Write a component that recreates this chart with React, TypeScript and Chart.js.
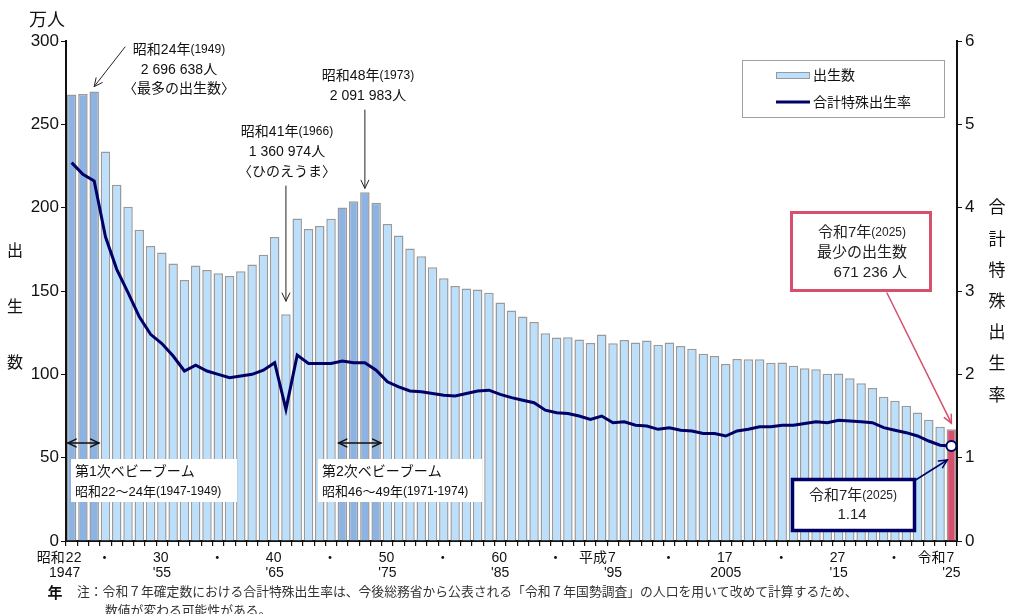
import { useEffect, useRef } from "react";
import { Chart, registerables } from "chart.js";

Chart.register(...registerables);

// 年次（西暦）
const years = [
  1947, 1948, 1949, 1950, 1951, 1952, 1953, 1954, 1955, 1956,
  1957, 1958, 1959, 1960, 1961, 1962, 1963, 1964, 1965, 1966,
  1967, 1968, 1969, 1970, 1971, 1972, 1973, 1974, 1975, 1976,
  1977, 1978, 1979, 1980, 1981, 1982, 1983, 1984, 1985, 1986,
  1987, 1988, 1989, 1990, 1991, 1992, 1993, 1994, 1995, 1996,
  1997, 1998, 1999, 2000, 2001, 2002, 2003, 2004, 2005, 2006,
  2007, 2008, 2009, 2010, 2011, 2012, 2013, 2014, 2015, 2016,
  2017, 2018, 2019, 2020, 2021, 2022, 2023, 2024, 2025,
];

// 出生数（万人）
const births = [
  267.8792, 268.1624, 269.6638, 233.7507, 213.7689, 200.5162, 186.804, 176.958, 173.0692, 166.5278,
  156.6713, 165.3469, 162.6088, 160.6041, 158.9372, 161.8616, 165.9521, 171.6761, 182.3697, 136.0974,
  193.5647, 187.1839, 188.9815, 193.4239, 200.0973, 203.8682, 209.1983, 202.9989, 190.144, 183.2617,
  175.51, 170.8643, 164.258, 157.6889, 152.9455, 151.5392, 150.8687, 148.978, 143.1577, 138.2946,
  134.6658, 131.4006, 124.6802, 122.1585, 122.3245, 120.8716, 118.8282, 123.8328, 118.7064, 120.6555,
  119.1665, 120.3147, 117.7669, 119.0547, 117.0662, 115.3855, 112.361, 111.0721, 106.253, 109.2674,
  108.9818, 109.1156, 107.0036, 107.1304, 105.0807, 103.7231, 102.9817, 100.3609, 100.5721, 97.6978,
  94.6146, 91.84, 86.5239, 84.0835, 81.1622, 77.0759, 72.7288, 68.6061, 67.1236,
];

// 合計特殊出生率
const tfr = [
  4.54, 4.4, 4.32, 3.65, 3.26, 2.98, 2.69, 2.48, 2.37, 2.22,
  2.04, 2.11, 2.04, 2.0, 1.96, 1.98, 2.0, 2.05, 2.14, 1.58,
  2.23, 2.13, 2.13, 2.13, 2.16, 2.14, 2.14, 2.05, 1.91, 1.85,
  1.8, 1.79, 1.77, 1.75, 1.74, 1.77, 1.8, 1.81, 1.76, 1.72,
  1.69, 1.66, 1.57, 1.54, 1.53, 1.5, 1.46, 1.5, 1.42, 1.43,
  1.39, 1.38, 1.34, 1.36, 1.33, 1.32, 1.29, 1.29, 1.26, 1.32,
  1.34, 1.37, 1.37, 1.39, 1.39, 1.41, 1.43, 1.42, 1.45, 1.44,
  1.43, 1.42, 1.36, 1.33, 1.3, 1.26, 1.2, 1.15, 1.14,
];

// ベビーブーム期
const firstBoom = [1947, 1948, 1949];
const secondBoom = [1971, 1972, 1973, 1974];
const latestYear = 2025;

// 横軸の目盛ラベル（和暦・西暦）
const tickYears = [1947, 1950, 1955, 1960, 1965, 1970, 1975, 1980, 1985, 1990, 1995, 2000, 2005, 2010, 2015, 2020, 2025];
const tickEraPrefix = ["昭和", "", "", "", "", "", "", "", "", "", "平成", "", "", "", "", "", "令和"];
const tickEra = ["22", "・", "30", "・", "40", "・", "50", "・", "60", "・", "7", "・", "17", "・", "27", "・", "7"];
const tickWestern = ["1947", "", "'55", "", "'65", "", "'75", "", "'85", "", "'95", "", "2005", "", "'15", "", "'25"];

const FF = '"Liberation Sans", "Noto Sans CJK JP", sans-serif';
const JF = '"Noto Sans CJK JP", sans-serif';

const LIGHT = "#bcdffb";
const DARK = "#8db3e2";
const RED = "#d64f6d";
const NAVY = "#000066";

type Run = [string, number];

function drawRuns(ctx: CanvasRenderingContext2D, parts: Run[], x: number, y: number, align: "left" | "center" | "right") {
  let total = 0;
  for (const p of parts) {
    ctx.font = `${p[1]}px ${FF}`;
    total += ctx.measureText(p[0]).width;
  }
  let cx = align === "center" ? x - total / 2 : align === "right" ? x - total : x;
  ctx.textAlign = "left";
  ctx.textBaseline = "middle";
  for (const p of parts) {
    ctx.font = `${p[1]}px ${FF}`;
    ctx.fillText(p[0], cx, y);
    cx += ctx.measureText(p[0]).width;
  }
}

function drawArrow(
  ctx: CanvasRenderingContext2D,
  x1: number, y1: number, x2: number, y2: number,
  color: string, lw: number, both = false,
) {
  ctx.save();
  ctx.strokeStyle = color;
  ctx.lineWidth = lw;
  ctx.lineCap = "round";
  ctx.beginPath();
  ctx.moveTo(x1, y1);
  ctx.lineTo(x2, y2);
  ctx.stroke();
  const head = (hx: number, hy: number, ang: number) => {
    const L = 9;
    const a = Math.PI / 7;
    ctx.beginPath();
    ctx.moveTo(hx - L * Math.cos(ang - a), hy - L * Math.sin(ang - a));
    ctx.lineTo(hx, hy);
    ctx.lineTo(hx - L * Math.cos(ang + a), hy - L * Math.sin(ang + a));
    ctx.stroke();
  };
  const ang = Math.atan2(y2 - y1, x2 - x1);
  head(x2, y2, ang);
  if (both) head(x1, y1, ang + Math.PI);
  ctx.restore();
}

function box(ctx: CanvasRenderingContext2D, x: number, y: number, w: number, h: number, stroke: string, lw: number) {
  ctx.save();
  ctx.fillStyle = "#ffffff";
  ctx.fillRect(x, y, w, h);
  if (lw > 0) {
    ctx.strokeStyle = stroke;
    ctx.lineWidth = lw;
    ctx.strokeRect(x, y, w, h);
  }
  ctx.restore();
}

const annotationPlugin = {
  id: "birthAnnotations",
  afterDraw(chart: any) {
    const ctx: CanvasRenderingContext2D = chart.ctx;
    const xs = chart.scales.x;
    const yL = chart.scales.y;
    const yR = chart.scales.y1;
    const px = (yr: number) => xs.getPixelForValue(years.indexOf(yr));
    const half = (xs.getPixelForValue(1) - xs.getPixelForValue(0)) / 2;
    const barTop = (yr: number) => yL.getPixelForValue(births[years.indexOf(yr)]);

    ctx.save();
    ctx.fillStyle = "#111";

    // 単位
    ctx.font = `18px ${JF}`;
    ctx.textAlign = "left";
    ctx.textBaseline = "middle";
    ctx.fillText("万人", 29, 19);

    // 左軸タイトル
    ctx.font = `16px ${JF}`;
    ctx.textAlign = "center";
    ["出", "生", "数"].forEach((c, i) => ctx.fillText(c, 15, 250 + i * 56));

    // 右軸タイトル
    ctx.font = `17px ${JF}`;
    ["合", "計", "特", "殊", "出", "生", "率"].forEach((c, i) => ctx.fillText(c, 997, 207 + i * 31.2));

    // 横軸ラベル
    ctx.fillStyle = "#111";
    tickYears.forEach((yr, i) => {
      const x = px(yr);
      ctx.font = `14px ${FF}`;
      ctx.textAlign = "center";
      ctx.textBaseline = "middle";
      const eraX = i === 0 ? x + 2 : x - 1;
      ctx.fillText(tickEra[i], eraX, 558);
      if (tickEraPrefix[i]) {
        const w = ctx.measureText(tickEra[i]).width;
        ctx.font = `14px ${JF}`;
        ctx.textAlign = "right";
        ctx.fillText(tickEraPrefix[i], eraX - w / 2 - 1, 557);
      }
      if (tickWestern[i]) {
        ctx.font = `14px ${FF}`;
        ctx.textAlign = "center";
        ctx.fillText(tickWestern[i], i === 0 ? x - 7 : x, 573);
      }
    });
    ctx.font = `bold 15px ${JF}`;
    ctx.textAlign = "center";
    ctx.fillText("年", 55, 592);

    // 注記
    ctx.fillStyle = "#333";
    ctx.font = `12.8px ${JF}`;
    ctx.textAlign = "left";
    ctx.fillText("注：令和７年確定数における合計特殊出生率は、今後総務省から公表される「令和７年国勢調査」の人口を用いて改めて計算するため、", 77, 591);
    ctx.fillText("数値が変わる可能性がある。", 105, 610);

    // 凡例
    box(ctx, 742.5, 60.5, 202, 57, "#a0a0a0", 1);
    ctx.fillStyle = LIGHT;
    ctx.fillRect(776, 72, 33, 6);
    ctx.strokeStyle = "#9a9a9a";
    ctx.lineWidth = 1;
    ctx.strokeRect(776.5, 72.5, 33, 6);
    ctx.strokeStyle = NAVY;
    ctx.lineWidth = 3;
    ctx.beginPath();
    ctx.moveTo(776, 102);
    ctx.lineTo(810, 102);
    ctx.stroke();
    ctx.fillStyle = "#111";
    ctx.font = `14px ${JF}`;
    ctx.textAlign = "left";
    ctx.fillText("出生数", 813, 75);
    ctx.fillText("合計特殊出生率", 813, 102);

    // 最多の出生数
    ctx.fillStyle = "#111";
    drawRuns(ctx, [["昭和24年", 14], ["(1949)", 12]], 179, 50, "center");
    drawRuns(ctx, [["2 696 638人", 14]], 179, 70, "center");
    drawRuns(ctx, [["〈最多の出生数〉", 14]], 179, 89, "center");
    drawArrow(ctx, 125, 47, px(1949), barTop(1949) - 5, "#222", 1);

    // 昭和48年
    drawRuns(ctx, [["昭和48年", 14], ["(1973)", 12]], 368, 76, "center");
    drawRuns(ctx, [["2 091 983人", 14]], 368, 96, "center");
    drawArrow(ctx, px(1973), 110, px(1973), barTop(1973) - 4, "#222", 1);

    // ひのえうま
    drawRuns(ctx, [["昭和41年", 14], ["(1966)", 12]], 287, 132, "center");
    drawRuns(ctx, [["1 360 974人", 14]], 287, 152, "center");
    drawRuns(ctx, [["〈ひのえうま〉", 14]], 287, 172, "center");
    drawArrow(ctx, px(1966), 186, px(1966), barTop(1966) - 13, "#222", 1);

    // ベビーブーム
    const boomLabel = (yrs: number[], bx: number, bw: number, title: string, sub: Run[]) => {
      const x1 = px(yrs[0]) - half;
      const x2 = px(yrs[yrs.length - 1]) + half;
      drawArrow(ctx, x1 + 2, 443, x2 - 1, 443, "#111", 1.5, true);
      box(ctx, bx, 459, bw, 43, "#fff", 0);
      ctx.fillStyle = "#111";
      drawRuns(ctx, [[title, 14]], bx + 4, 472, "left");
      drawRuns(ctx, sub, bx + 4, 492, "left");
    };
    boomLabel(firstBoom, 71, 166, "第1次ベビーブーム", [["昭和22～24年", 13], ["(1947-1949)", 12]]);
    boomLabel(secondBoom, 318, 164, "第2次ベビーブーム", [["昭和46～49年", 13], ["(1971-1974)", 12]]);

    // 令和7年 最少の出生数
    box(ctx, 791.5, 212.5, 139, 78, RED, 3);
    ctx.fillStyle = "#222";
    drawRuns(ctx, [["令和7年", 15], ["(2025)", 12]], 862, 233, "center");
    drawRuns(ctx, [["最少の出生数", 15]], 862, 253, "center");
    drawRuns(ctx, [["671 236 人", 15]], 907, 273, "right");
    drawArrow(ctx, 887, 293, px(latestYear), barTop(latestYear) - 6, RED, 1.5);

    // 令和7年 合計特殊出生率
    const tfrY = yR.getPixelForValue(tfr[tfr.length - 1]);
    box(ctx, 792.5, 479.5, 122, 51, NAVY, 3.5);
    ctx.fillStyle = "#222";
    drawRuns(ctx, [["令和7年", 15], ["(2025)", 12]], 853, 496, "center");
    drawRuns(ctx, [["1.14", 15]], 852, 515, "center");
    drawArrow(ctx, 914, 481, px(latestYear) - 4, tfrY + 14, NAVY, 1.5);

    ctx.restore();
  },
};

export default function App() {
  const ref = useRef<HTMLCanvasElement | null>(null);

  useEffect(() => {
    if (!ref.current) return;
    const barColors = years.map((y) =>
      y === latestYear ? RED : firstBoom.includes(y) || secondBoom.includes(y) ? DARK : LIGHT,
    );
    const pointRadius = years.map((y) => (y === latestYear ? 5 : 0));

    const chart = new Chart(ref.current, {
      type: "bar",
      data: {
        labels: years.map(String),
        datasets: [
          {
            type: "line",
            label: "合計特殊出生率",
            data: tfr,
            yAxisID: "y1",
            borderColor: NAVY,
            borderWidth: 3,
            tension: 0,
            pointRadius,
            pointBackgroundColor: "#ffffff",
            pointBorderColor: NAVY,
            pointBorderWidth: 2,
            order: 0,
          } as any,
          {
            type: "bar",
            label: "出生数",
            data: births,
            yAxisID: "y",
            backgroundColor: barColors,
            borderColor: "#9a9a9a",
            borderWidth: 1.5,
            barPercentage: 0.84,
            categoryPercentage: 1,
            order: 1,
          },
        ],
      },
      options: {
        responsive: false,
        animation: false,
        layout: { padding: { top: 41, left: 0, right: 0, bottom: 0 } },
        plugins: { legend: { display: false }, tooltip: { enabled: false } },
        scales: {
          x: {
            offset: true,
            grid: { display: true, drawOnChartArea: false, drawTicks: true, tickLength: 5, offset: true, color: "#111", lineWidth: 1.2 },
            border: { display: true, color: "#111", width: 2 },
            ticks: { display: false, autoSkip: false },
            afterFit: (s: any) => { s.height = 73; },
          },
          y: {
            position: "left",
            min: 0,
            max: 300,
            grid: { drawOnChartArea: false, drawTicks: true, tickLength: 5, color: "#111" },
            border: { display: true, color: "#111", width: 2 },
            ticks: { stepSize: 50, padding: 2, color: "#111", font: { family: FF, size: 17 } },
            afterFit: (s: any) => { s.width = 66; },
          },
          y1: {
            position: "right",
            min: 0,
            max: 6,
            grid: { drawOnChartArea: false, drawTicks: true, tickLength: 5, color: "#111" },
            border: { display: true, color: "#111", width: 2 },
            ticks: { stepSize: 1, padding: 3, color: "#111", font: { family: FF, size: 17 } },
            afterFit: (s: any) => { s.width = 67; },
          },
        },
      },
      plugins: [annotationPlugin],
    });
    return () => chart.destroy();
  }, []);

  return (
    <div style={{ position: "fixed", left: 0, top: 0, width: 1024, height: 614, background: "#fff" }}>
      <canvas ref={ref} width={1024} height={614} />
    </div>
  );
}
